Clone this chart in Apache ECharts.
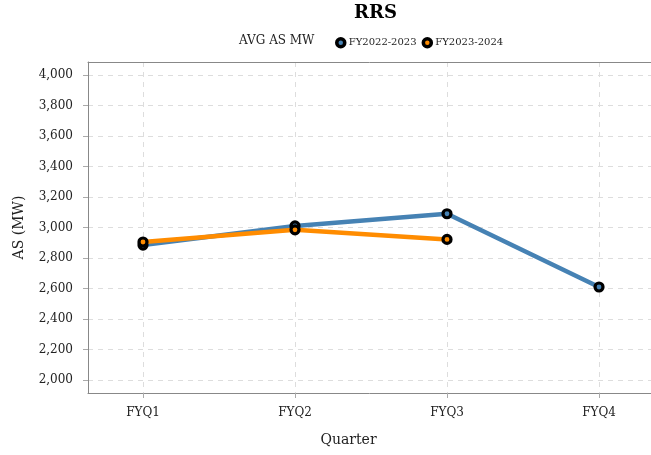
<!DOCTYPE html>
<html><head><meta charset="utf-8">
<script src="https://cdn.jsdelivr.net/npm/echarts@6/dist/echarts.min.js"></script>
<style>html,body{margin:0;padding:0;background:#fff}#c{width:651px;height:455px}</style>
</head><body><div id="c"></div>
<script>
var categories = ['FYQ1', 'FYQ2', 'FYQ3', 'FYQ4'];
var fy2223 = [2885, 3010, 3090, 2610];
var fy2324 = [2905, 2985, 2922, null];
var seriesNames = ['FY2022-2023', 'FY2023-2024'];
var yTicks = [2000, 2200, 2400, 2600, 2800, 3000, 3200, 3400, 3600, 3800, 4000];
var xTicks = [0, 1, 2, 3];

var FONT = 'DejaVu Serif';
function pts(arr) { return arr.map(function (v, i) { return [i, v]; }).filter(function (p) { return p[1] != null; }); }

var chart = echarts.init(document.getElementById('c'), null, { renderer: 'canvas' });
var axisGray = '#888';
chart.setOption({
  animation: false,
  textStyle: { fontFamily: FONT },
  title: [
    { text: 'RRS', top: 4, textStyle: { fontFamily: FONT, fontSize: 18, fontWeight: 'bold', color: '#000' }, padding: 0, left: 354 },
    { text: 'AVG AS MW', left: 239, top: 35, padding: 0, textStyle: { fontFamily: FONT, fontSize: 12, fontWeight: 'normal', color: '#222' } }
  ],
  legend: {
    left: 335, top: 37, padding: 0, itemGap: 5, itemWidth: 8, itemHeight: 9,
    icon: 'circle',
    itemStyle: { borderColor: '#000', borderWidth: 3.5 },
    textStyle: { fontFamily: FONT, fontSize: 10, color: '#222', padding: [0, 0, 0, -1] },
    data: seriesNames
  },
  grid: { left: 88, right: 0, top: 62, bottom: 62, show: false, containLabel: false },
  xAxis: [{
    type: 'value', min: -0.3618, max: 3.342,
    name: 'Quarter', nameLocation: 'middle', nameGap: 40,
    nameTextStyle: { fontFamily: FONT, fontSize: 14, color: '#222', padding: [0, 42, 0, 0] },
    axisLine: { show: true, onZero: false, lineStyle: { color: axisGray } },
    axisTick: { show: true, length: 5, lineStyle: { color: '#aaa' }, customValues: xTicks },
    axisLabel: { customValues: xTicks, margin: 14, fontFamily: FONT, fontSize: 12, color: '#222', formatter: function (v) { return categories[Math.round(v)]; } },
    splitLine: { show: true, lineStyle: { color: '#ddd', type: [5, 5] } }
  }, {
    type: 'value', position: 'top', min: -0.3618, max: 3.342,
    axisLine: { show: true, onZero: false, lineStyle: { color: axisGray } },
    axisTick: { show: false }, axisLabel: { show: false }, splitLine: { show: false }
  }],
  yAxis: {
    type: 'value', min: 1915, max: 4085,
    name: 'AS (MW)', nameLocation: 'middle', nameGap: 62,
    nameTextStyle: { fontFamily: FONT, fontSize: 14, color: '#222' },
    axisLine: { show: true, onZero: false, lineStyle: { color: axisGray } },
    axisTick: { show: true, length: 5, lineStyle: { color: '#aaa' }, customValues: yTicks },
    axisLabel: { customValues: yTicks, margin: 15, fontFamily: FONT, fontSize: 12, color: '#222', formatter: function (v) { return v.toLocaleString('en-US'); } },
    splitLine: { show: true, lineStyle: { color: '#ddd', type: [5, 5] } }
  },
  series: [
    { name: seriesNames[0], type: 'line', data: pts(fy2223), color: '#4682b4',
      lineStyle: { width: 4.5, color: '#4682b4' }, symbol: 'circle', symbolSize: 8,
      itemStyle: { color: '#4682b4', borderColor: '#000', borderWidth: 3.2 }, z: 3 },
    { name: seriesNames[1], type: 'line', data: pts(fy2324), color: '#ff8c00',
      lineStyle: { width: 4.5, color: '#ff8c00' }, symbol: 'circle', symbolSize: 8,
      itemStyle: { color: '#ff8c00', borderColor: '#000', borderWidth: 3.2 }, z: 4 }
  ]
});
</script></body></html>
